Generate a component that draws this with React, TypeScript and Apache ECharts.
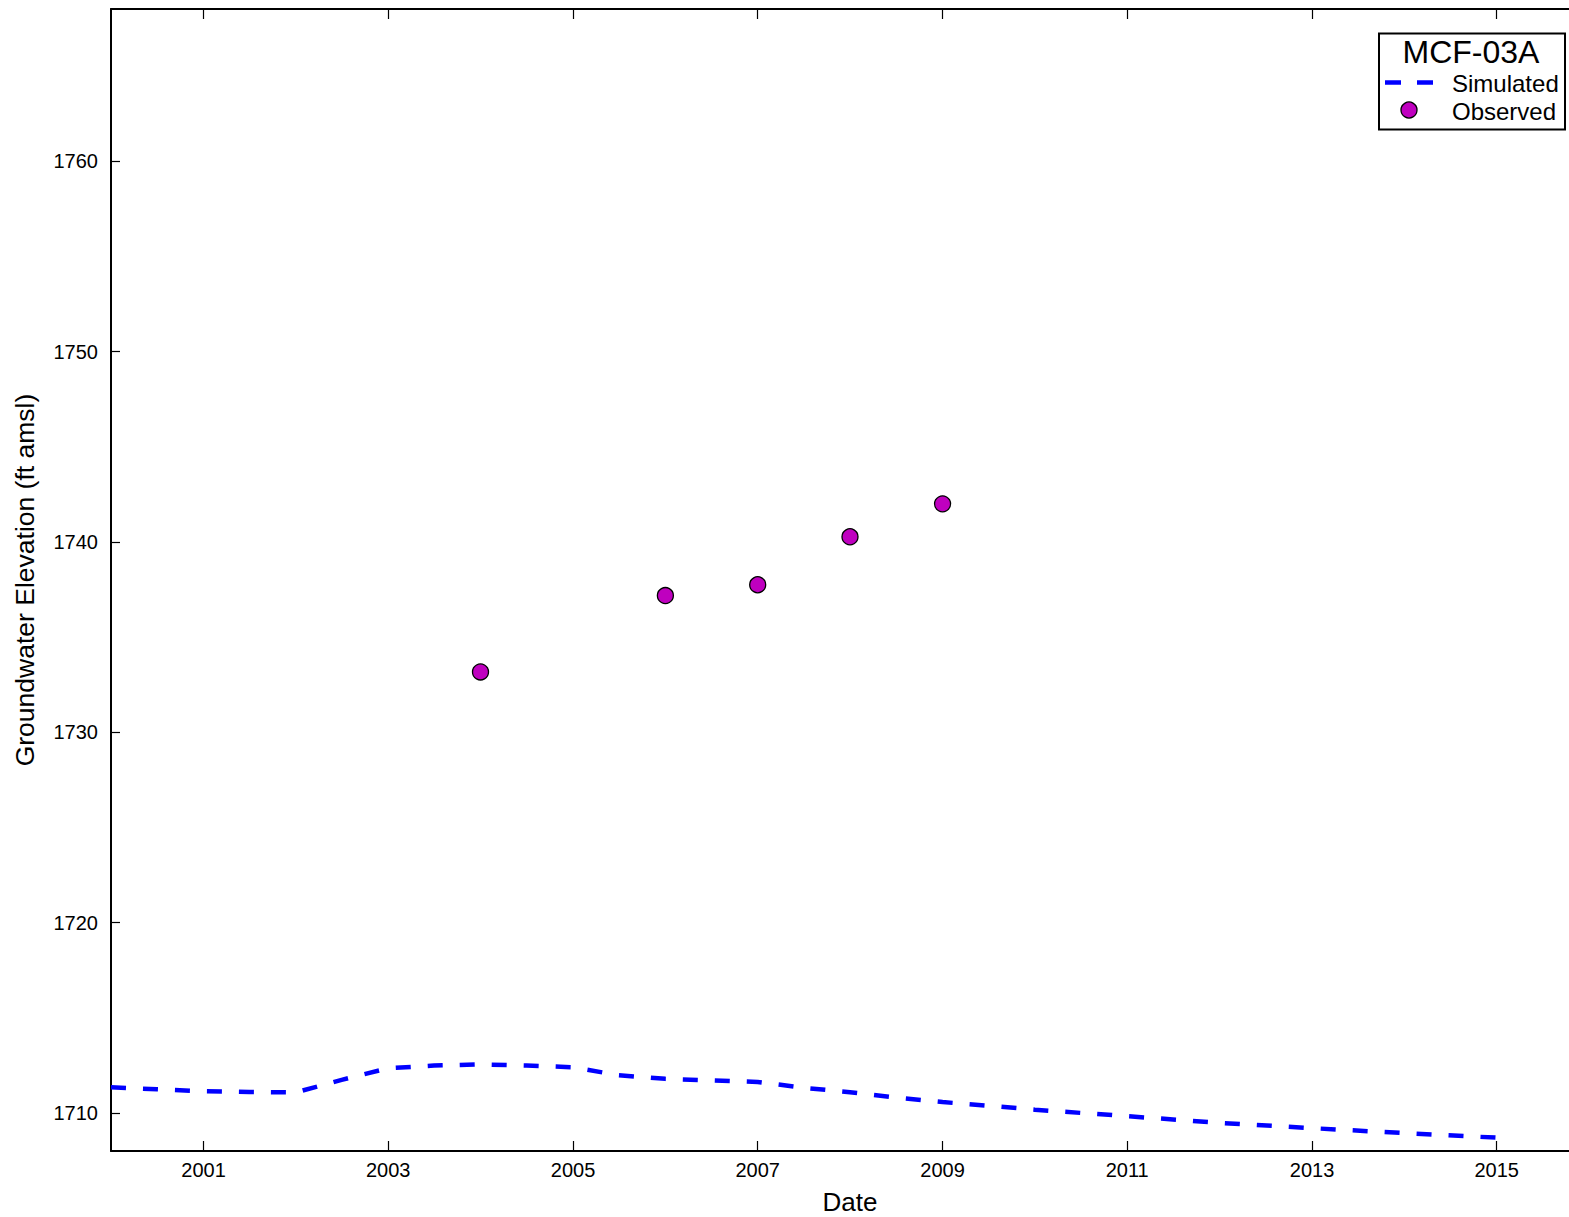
import React, { useEffect, useRef } from "react";
import * as echarts from "echarts";

const simDates = [
  "2000-01-01", "2000-07-01", "2001-01-01", "2001-07-01", "2002-01-01",
  "2002-07-01", "2003-01-01", "2003-07-01", "2004-01-01", "2004-07-01",
  "2005-01-01", "2005-07-01", "2006-01-01", "2006-07-01", "2007-01-01",
  "2007-07-01", "2008-01-01", "2008-07-01", "2009-01-01", "2009-07-01",
  "2010-01-01", "2011-01-01", "2012-01-01", "2013-01-01", "2014-01-01",
  "2015-01-01",
];
const simValues = [
  1711.35, 1711.24, 1711.14, 1711.1, 1711.08,
  1711.74, 1712.35, 1712.49, 1712.55, 1712.49,
  1712.4, 1711.98, 1711.79, 1711.71, 1711.63,
  1711.32, 1711.09, 1710.81, 1710.57, 1710.38,
  1710.17, 1709.83, 1709.48, 1709.2, 1708.94,
  1708.7,
];
const obsDates = ["2004-01-01", "2006-01-01", "2007-01-01", "2008-01-01", "2009-01-01"];
const obsValues = [1733.17, 1737.18, 1737.75, 1740.27, 1742.0];
const xTickYears = [2001, 2003, 2005, 2007, 2009, 2011, 2013, 2015];
const yTicks = [1710, 1720, 1730, 1740, 1750, 1760];
const wellName = "MCF-03A";
const simName = "Simulated";
const obsName = "Observed";

const FONT = "'Liberation Sans', Arial, Helvetica, sans-serif";
const t = (d: string) => new Date(d + "T00:00:00Z").getTime();

export default function App() {
  const ref = useRef<HTMLDivElement>(null);
  useEffect(() => {
    if (!ref.current) return;
    const chart = echarts.init(ref.current, undefined, { renderer: "svg" });
    const xTickVals = xTickYears.map((y) => Date.UTC(y, 0, 1));
    const xMin = t("2000-01-01");
    const xMax = t("2016-01-01");
    const axisLineStyle = { color: "#000", width: 2 };
    const tickStyle = { color: "#000", width: 1.2 };
    chart.setOption({
      animation: false,
      textStyle: { fontFamily: FONT },
      grid: {
        left: 111,
        top: 9,
        right: 0,
        bottom: 66,
        containLabel: false,
        outerBoundsMode: "none",
      },
      xAxis: [
        {
          type: "value",
          min: xMin,
          max: xMax,
          name: "Date",
          nameLocation: "middle",
          nameGap: 38,
          nameTextStyle: { fontSize: 26, lineHeight: 26, color: "#000", fontFamily: FONT },
          axisLine: { show: true, lineStyle: axisLineStyle },
          axisTick: { show: true, inside: true, length: 10, lineStyle: tickStyle, customValues: xTickVals },
          axisLabel: {
            show: true,
            fontSize: 20,
            color: "#000",
            fontFamily: FONT,
            margin: 9,
            customValues: xTickVals,
            formatter: (v: number) => String(new Date(v).getUTCFullYear()),
          },
          splitLine: { show: false },
        },
        {
          type: "value",
          position: "top",
          min: xMin,
          max: xMax,
          axisLine: { show: true, lineStyle: axisLineStyle },
          axisTick: { show: true, inside: true, length: 10, lineStyle: tickStyle, customValues: xTickVals },
          axisLabel: { show: false },
          splitLine: { show: false },
        },
      ],
      yAxis: [
        {
          type: "value",
          min: 1708,
          max: 1768,
          name: "Groundwater Elevation (ft amsl)",
          nameLocation: "middle",
          nameGap: 73,
          nameTextStyle: { fontSize: 26.5, color: "#000", fontFamily: FONT },
          axisLine: { show: true, lineStyle: axisLineStyle },
          axisTick: { show: true, inside: true, length: 9, lineStyle: tickStyle, customValues: yTicks },
          axisLabel: {
            show: true,
            fontSize: 20,
            color: "#000",
            fontFamily: FONT,
            margin: 13,
            customValues: yTicks,
            formatter: (v: number) => String(v),
          },
          splitLine: { show: false },
        },
      ],
      series: [
        {
          name: simName,
          type: "line",
          xAxisIndex: 0,
          data: simDates.map((d, i) => [t(d), simValues[i]]),
          showSymbol: false,
          symbol: "none",
          lineStyle: { color: "#0000FF", width: 4.5, type: [15, 17], cap: "butt" },
          z: 2,
        },
        {
          name: obsName,
          type: "scatter",
          xAxisIndex: 0,
          data: obsDates.map((d, i) => [t(d), obsValues[i]]),
          symbol: "circle",
          symbolSize: 16,
          itemStyle: { color: "#BF00BF", borderColor: "#000", borderWidth: 1.3, opacity: 1 },
          z: 3,
        },
      ],
      graphic: [
        {
          type: "rect",
          shape: { x: 1379, y: 33.5, width: 186, height: 96 },
          style: { fill: "#fff", stroke: "#000", lineWidth: 2 },
          z: 10,
        },
        {
          type: "text",
          x: 1471,
          y: 52,
          style: {
            text: wellName,
            fontSize: 32,
            fontFamily: FONT,
            fill: "#000",
            align: "center",
            verticalAlign: "middle",
          },
          z: 11,
        },
        {
          type: "line",
          shape: { x1: 1385, y1: 82.5, x2: 1433, y2: 82.5 },
          style: { stroke: "#0000FF", lineWidth: 4.5, lineDash: [16, 16], lineCap: "butt" },
          z: 11,
        },
        {
          type: "text",
          x: 1452,
          y: 83,
          style: {
            text: simName,
            fontSize: 24,
            fontFamily: FONT,
            fill: "#000",
            align: "left",
            verticalAlign: "middle",
          },
          z: 11,
        },
        {
          type: "circle",
          shape: { cx: 1409, cy: 110, r: 8 },
          style: { fill: "#BF00BF", stroke: "#000", lineWidth: 1.3 },
          z: 11,
        },
        {
          type: "text",
          x: 1452,
          y: 111,
          style: {
            text: obsName,
            fontSize: 24,
            fontFamily: FONT,
            fill: "#000",
            align: "left",
            verticalAlign: "middle",
          },
          z: 11,
        },
      ],
    });
    return () => chart.dispose();
  }, []);
  return (
    <div
      style={{
        position: "fixed",
        left: 0,
        top: 0,
        width: 1569,
        height: 1217,
        overflow: "hidden",
        background: "#fff",
      }}
    >
      <div ref={ref} style={{ width: 1589, height: 1217 }} />
    </div>
  );
}
